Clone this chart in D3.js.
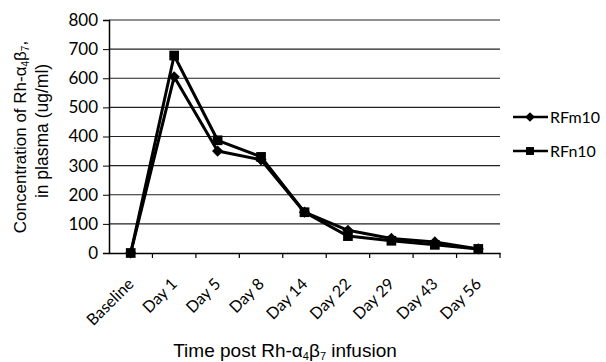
<!DOCTYPE html>
<html><head><meta charset="utf-8">
<script src="https://cdn.jsdelivr.net/npm/d3@7"></script>
<style>body{margin:0;background:#fff}svg{display:block}</style>
</head><body>
<script>
const categories = ["Baseline","Day 1","Day 5","Day 8","Day 14","Day 22","Day 29","Day 43","Day 56"];
const rfm10 = [0, 605, 350, 320, 140, 78, 50, 38, 14];
const rfn10 = [0, 678, 387, 330, 140, 58, 42, 28, 14];
const yTicks = [0,100,200,300,400,500,600,700,800];
const seriesNames = ["RFm10","RFn10"];

const W=606,H=362;
const svg=d3.select("body").append("svg").attr("width",W).attr("height",H);
const L=109,R=500,T=20,B=253;
const x=d3.scaleBand().domain(categories).range([L,R]);
const y=d3.scaleLinear().domain([0,800]).range([B,T]);
const tickFont="Lato, 'Open Sans', sans-serif";

// gridlines
svg.append("g").selectAll("line").data(yTicks.filter(d=>d>0)).join("line")
  .attr("x1",L).attr("x2",R).attr("y1",d=>y(d)).attr("y2",d=>y(d))
  .attr("stroke","#222").attr("stroke-width",1.2);

// y axis
const ya=svg.append("g").attr("transform",`translate(${L},0)`)
  .call(d3.axisLeft(y).tickValues(yTicks).tickSize(6).tickPadding(5));
ya.select(".domain").attr("stroke","#000").attr("stroke-width",1.5);
ya.selectAll("text").attr("font-family",tickFont).attr("font-size",17).attr("fill","#000");
ya.selectAll("line").attr("stroke","#000");

// x axis
const xa=svg.append("g").attr("transform",`translate(0,${B})`)
  .call(d3.axisBottom(x).tickSize(0).tickFormat(""));
xa.select(".domain").attr("stroke","#000").attr("stroke-width",1.5);
xa.append("g").selectAll("line").data(d3.range(1,categories.length+1)).join("line")
  .attr("x1",i=>L+i*x.step()).attr("x2",i=>L+i*x.step()).attr("y1",0).attr("y2",5)
  .attr("stroke","#000").attr("stroke-width",1.2);
svg.append("g").selectAll("text").data(categories).join("text")
  .attr("transform",d=>`translate(${x(d)+x.bandwidth()/2+4},${B+32}) rotate(-45)`)
  .attr("text-anchor","end").attr("font-family",tickFont).attr("font-size",16).attr("fill","#000")
  .text(d=>d);

// lines
const line=d3.line().x((d,i)=>x(categories[i])+x.bandwidth()/2).y(d=>y(d));
[rfm10,rfn10].forEach(s=>{
  svg.append("path").datum(s).attr("d",line).attr("fill","none")
    .attr("stroke","#000").attr("stroke-width",3).attr("stroke-linejoin","round");
});
const diamond=d3.symbol().type(d3.symbolDiamond2).size(80);
const square=d3.symbol().type(d3.symbolSquare2).size(120);
svg.append("g").selectAll("path").data(rfm10).join("path")
  .attr("transform",(d,i)=>`translate(${x(categories[i])+x.bandwidth()/2},${y(d)})`)
  .attr("d",diamond).attr("fill","#000").attr("stroke","none");
svg.append("g").selectAll("path").data(rfn10).join("path")
  .attr("transform",(d,i)=>`translate(${x(categories[i])+x.bandwidth()/2},${y(d)})`)
  .attr("d",square).attr("fill","#000").attr("stroke","none");

// legend
const lg=svg.append("g");
const ly=[117,151];
const lgDiamond=d3.symbol().type(d3.symbolDiamond2).size(60);
const lgSquare=d3.symbol().type(d3.symbolSquare2).size(80);
seriesNames.forEach((n,i)=>{
  lg.append("line").attr("x1",513).attr("x2",548).attr("y1",ly[i]).attr("y2",ly[i])
    .attr("stroke","#000").attr("stroke-width",2.5);
  lg.append("path").attr("transform",`translate(530,${ly[i]})`).attr("d",i===0?lgDiamond:lgSquare).attr("fill","#000");
  lg.append("text").attr("x",550).attr("y",ly[i]+6).attr("font-family",tickFont)
    .attr("font-size",16).attr("fill","#000").text(n);
});

// axis titles
const titleFont="Liberation Sans, Arial, sans-serif";
const yt=svg.append("text").attr("transform","translate(26,137) rotate(-90)")
  .attr("text-anchor","middle").attr("font-family",titleFont).attr("font-size",17).attr("fill","#000");
yt.append("tspan").text("Concentration of Rh-α");
yt.append("tspan").attr("font-size",10).attr("dy",3).text("4");
yt.append("tspan").attr("dy",-3).text("β");
yt.append("tspan").attr("font-size",10).attr("dy",3).text("7");
yt.append("tspan").attr("dy",-3).text(",");
svg.append("text").attr("transform","translate(48,131) rotate(-90)")
  .attr("text-anchor","middle").attr("font-family",titleFont).attr("font-size",17.5).attr("fill","#000")
  .text("in plasma (ug/ml)");

const xt=svg.append("text").attr("x",285).attr("y",357)
  .attr("text-anchor","middle").attr("font-family",titleFont).attr("font-size",19).attr("fill","#000");
xt.append("tspan").text("Time post Rh-α");
xt.append("tspan").attr("font-size",11).attr("dy",3).text("4");
xt.append("tspan").attr("dy",-3).text("β");
xt.append("tspan").attr("font-size",11).attr("dy",3).text("7");
xt.append("tspan").attr("dy",-3).text(" infusion");
</script>
</body></html>
